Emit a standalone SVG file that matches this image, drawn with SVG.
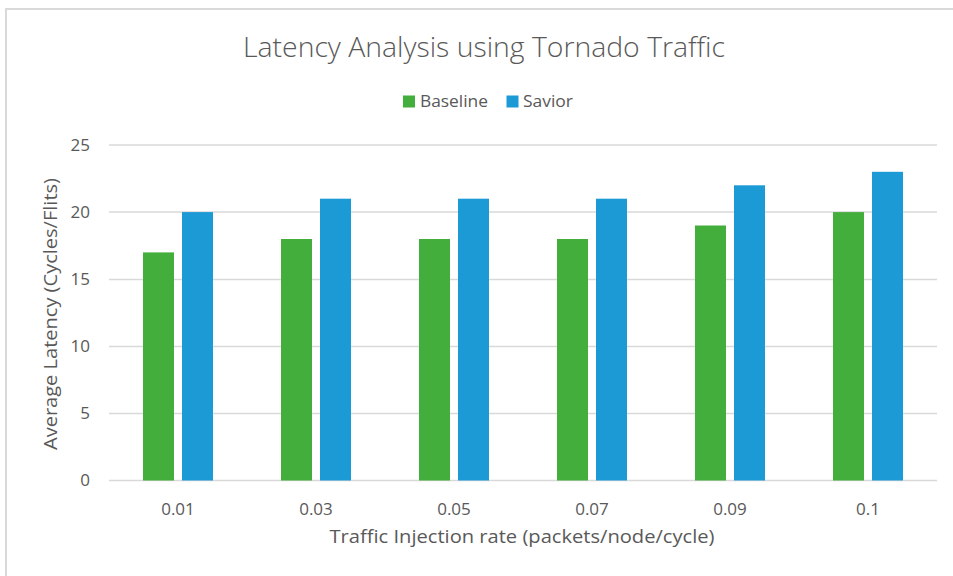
<svg xmlns="http://www.w3.org/2000/svg" width="953" height="576" viewBox="0 0 953 576">
<style>
text{font-family:"Open Sans","Liberation Sans",sans-serif;fill:#595959}
.grid{stroke:#d9d9d9;stroke-width:1.5}
.b{fill:#43ae3b}
.s{fill:#1c9ad6}
.tick{font-size:17px;text-anchor:end}
.xl{font-size:17px;text-anchor:middle}
</style>
<rect x="0" y="0" width="953" height="576" fill="#ffffff"/>
<rect x="6" y="9" width="960" height="580" fill="#ffffff" stroke="#d9d9d9" stroke-width="2"/>
<g id="title"><text x="484" y="57" font-size="27" font-weight="300" text-anchor="middle" textLength="482" lengthAdjust="spacingAndGlyphs">Latency Analysis using Tornado Traffic</text></g>
<g id="legend">
<rect x="403" y="95.5" width="12" height="12" class="b"/>
<text x="420" y="107" font-size="16.5" textLength="68" lengthAdjust="spacingAndGlyphs">Baseline</text>
<rect x="506.5" y="95.5" width="12" height="12" class="s"/>
<text x="523" y="107" font-size="16.5" textLength="50" lengthAdjust="spacingAndGlyphs">Savior</text>
</g>
<g id="gridlines">
<line class="grid" x1="109" y1="145" x2="937" y2="145"/>
<line class="grid" x1="109" y1="212" x2="937" y2="212"/>
<line class="grid" x1="109" y1="279.5" x2="937" y2="279.5"/>
<line class="grid" x1="109" y1="346.5" x2="937" y2="346.5"/>
<line class="grid" x1="109" y1="413.5" x2="937" y2="413.5"/>
<line class="grid" x1="109" y1="480.5" x2="937" y2="480.5"/>
</g>
<g id="yticks">
<text class="tick" x="90" y="151">25</text>
<text class="tick" x="90" y="218">20</text>
<text class="tick" x="90" y="285">15</text>
<text class="tick" x="90" y="352">10</text>
<text class="tick" x="90" y="419">5</text>
<text class="tick" x="90" y="486">0</text>
</g>
<g id="bars">
<rect class="b" x="143" y="252.4" width="31" height="228.1"/>
<rect class="s" x="182" y="212.1" width="31" height="268.4"/>
<rect class="b" x="281" y="239" width="31" height="241.5"/>
<rect class="s" x="320" y="198.7" width="31" height="281.8"/>
<rect class="b" x="419" y="239" width="31" height="241.5"/>
<rect class="s" x="458" y="198.7" width="31" height="281.8"/>
<rect class="b" x="557" y="239" width="31" height="241.5"/>
<rect class="s" x="596" y="198.7" width="31" height="281.8"/>
<rect class="b" x="695" y="225.5" width="31" height="255"/>
<rect class="s" x="734" y="185.3" width="31" height="295.2"/>
<rect class="b" x="833" y="212.1" width="31" height="268.4"/>
<rect class="s" x="872" y="171.8" width="31" height="308.7"/>
</g>
<g id="xlabels">
<text class="xl" x="178" y="515">0.01</text>
<text class="xl" x="316" y="515">0.03</text>
<text class="xl" x="454" y="515">0.05</text>
<text class="xl" x="592" y="515">0.07</text>
<text class="xl" x="730" y="515">0.09</text>
<text class="xl" x="868" y="515">0.1</text>
</g>
<g id="xtitle"><text x="522" y="543" font-size="18.5" text-anchor="middle" textLength="385" lengthAdjust="spacingAndGlyphs">Traffic Injection rate (packets/node/cycle)</text></g>
<g id="ytitle"><text transform="translate(57,314) rotate(-90)" font-size="18.5" text-anchor="middle" textLength="272" lengthAdjust="spacingAndGlyphs">Average Latency (Cycles/Flits)</text></g>
</svg>
